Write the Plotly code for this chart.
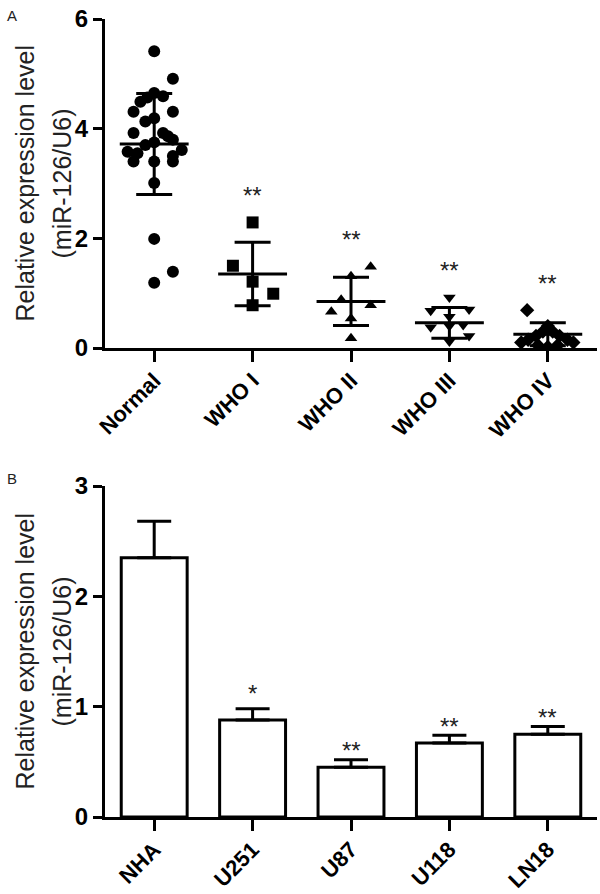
import plotly.graph_objects as go

# ---------------- Panel A data ----------------
groups_a = ["Normal", "WHO I", "WHO II", "WHO III", "WHO IV"]
symbols_a = ["circle", "square", "triangle-up", "triangle-down", "diamond"]

normal_vals = [5.41, 4.91, 4.65, 4.57, 4.49, 4.59, 4.31, 4.31, 4.13, 4.19,
               3.92, 3.92, 3.86, 3.80, 3.75, 3.70, 3.58, 3.61, 3.55, 3.50,
               3.40, 3.40, 3.40, 3.01, 1.99, 1.39, 1.19]
normal_jit = [0.0, 0.19, 0.0, -0.07, -0.14, 0.09, -0.21, 0.19, -0.09, 0.0,
              -0.21, 0.09, 0.14, 0.19, 0.0, -0.09, -0.27, 0.28, -0.17, 0.19,
              -0.21, 0.19, 0.0, 0.0, 0.0, 0.19, 0.0]

who1_vals = [2.29, 1.50, 1.21, 0.99, 0.78]
who1_jit = [0.0, -0.2, 0.0, 0.21, 0.0]

who2_vals = [1.48, 1.31, 0.88, 0.66, 0.78, 0.54, 0.18]
who2_jit = [0.2, 0.0, -0.1, -0.2, 0.2, 0.0, 0.0]

who3_vals = [0.92, 0.70, 0.68, 0.42, 0.38, 0.22, 0.40, 0.57, 0.12]
who3_jit = [0.0, 0.2, -0.19, 0.14, -0.19, 0.2, 0.0, 0.0, 0.0]

who4_vals = [0.69, 0.40, 0.30, 0.30, 0.22, 0.22, 0.15, 0.15, 0.10, 0.10, 0.05, 0.05, 0.02]
who4_jit = [-0.21, 0.0, -0.05, 0.05, -0.12, 0.12, -0.2, 0.2, -0.27, 0.26, -0.1, 0.1, 0.0]

means_a = [3.72, 1.35, 0.85, 0.46, 0.25]
sds_a = [0.92, 0.58, 0.44, 0.28, 0.21]
sig_a = ["", "**", "**", "**", "**"]

# ---------------- Panel B data ----------------
cells_b = ["NHA", "U251", "U87", "U118", "LN18"]
means_b = [2.35, 0.88, 0.45, 0.67, 0.75]
sds_b = [0.33, 0.10, 0.07, 0.07, 0.07]
sig_b = ["", "*", "**", "**", "**"]

H = 894
W = 600
ML, MR = 105, 3
FONT = "Liberation Sans, Arial, sans-serif"

def ydom(top_px, bot_px):
    return [(H - bot_px) / H, (H - top_px) / H]

fig = go.Figure()

all_vals = [normal_vals, who1_vals, who2_vals, who3_vals, who4_vals]
all_jit = [normal_jit, who1_jit, who2_jit, who3_jit, who4_jit]
marker_sizes = [12, 12, 11, 11, 11]

for i, (vals, jit) in enumerate(zip(all_vals, all_jit)):
    fig.add_trace(go.Scatter(
        x=[i + j for j in jit], y=vals, mode="markers",
        marker=dict(symbol=symbols_a[i], size=marker_sizes[i], color="black",
                    line=dict(width=0)),
        xaxis="x", yaxis="y", showlegend=False, hoverinfo="skip"))

# mean lines
mx, my = [], []
for i, m in enumerate(means_a):
    mx += [i - 0.35, i + 0.35, None]
    my += [m, m, None]
fig.add_trace(go.Scatter(x=mx, y=my, mode="lines",
                         line=dict(color="black", width=3),
                         xaxis="x", yaxis="y", showlegend=False, hoverinfo="skip"))
# SD error bars
fig.add_trace(go.Scatter(
    x=list(range(len(means_a))), y=means_a, mode="markers",
    marker=dict(size=1, color="rgba(0,0,0,0)"),
    error_y=dict(type="data", array=sds_a, visible=True, color="black",
                 thickness=3, width=18),
    xaxis="x", yaxis="y", showlegend=False, hoverinfo="skip"))

# Panel B bars
fig.add_trace(go.Bar(
    x=list(range(len(cells_b))), y=means_b, width=0.67,
    marker=dict(color="white", line=dict(color="black", width=3)),
    error_y=dict(type="data", array=sds_b, arrayminus=[0] * len(sds_b),
                 symmetric=False, visible=True, color="black", thickness=3, width=17),
    xaxis="x2", yaxis="y2", showlegend=False, hoverinfo="skip"))

annotations = []
for i, s in enumerate(sig_a):
    if s:
        annotations.append(dict(x=i, y=max(all_vals[i]), xref="x", yref="y",
                                text=s, showarrow=False, yshift=27,
                                font=dict(family=FONT, size=24, color="#222")))
for i, s in enumerate(sig_b):
    if s:
        annotations.append(dict(x=i, y=means_b[i] + sds_b[i], xref="x2", yref="y2",
                                text=s, showarrow=False,
                                yshift=9 if len(s) > 1 else 15,
                                font=dict(family=FONT, size=24, color="#222")))

# y-axis titles (two lines)
for yref in ["y domain", "y2 domain"]:
    annotations.append(dict(x=0, y=0.5, xref="paper", yref=yref,
                            text="Relative expression level", textangle=-90,
                            showarrow=False, xanchor="center", yanchor="middle",
                            xshift=-81,
                            font=dict(family=FONT, size=25, color="#222")))
    annotations.append(dict(x=0, y=0.5, xref="paper", yref=yref,
                            text="(miR-126/U6)", textangle=-90,
                            showarrow=False, xanchor="center", yanchor="middle",
                            xshift=-44,
                            font=dict(family=FONT, size=25, color="#222")))

# panel letters
pw = W - ML - MR
for letter, ypx in [("A", 15), ("B", 478)]:
    annotations.append(dict(x=(12 - ML) / pw, y=(H - ypx) / H, xref="paper", yref="paper",
                            text=letter, showarrow=False, xanchor="center",
                            yanchor="middle",
                            font=dict(family=FONT, size=15, color="#222")))

axis_common = dict(showline=True, linewidth=3, linecolor="black", showgrid=False,
                   zeroline=False, ticks="outside", tickwidth=3, tickcolor="black",
                   mirror=False, automargin=False)

fig.update_layout(
    width=W, height=H,
    margin=dict(l=ML, r=MR, t=0, b=0, autoexpand=False),
    paper_bgcolor="white", plot_bgcolor="white",
    font=dict(family=FONT, color="black"),
    xaxis=dict(axis_common, range=[-0.5, 4.5], tickvals=list(range(5)),
               ticktext=["<b>%s</b>" % g for g in groups_a], tickangle=-45,
               ticklen=11, tickfont=dict(size=22, color="black"),
               ticklabelstandoff=-3,
               anchor="y", domain=[0, 1]),
    yaxis=dict(axis_common, range=[0, 6], tickvals=[0, 2, 4, 6],
               ticktext=["<b>%d</b>" % v for v in [0, 2, 4, 6]],
               ticklen=9, tickfont=dict(size=24, color="black"),
               domain=ydom(19, 348), anchor="x"),
    xaxis2=dict(axis_common, range=[-0.5, 4.5], tickvals=list(range(5)),
                ticktext=["<b>%s</b>" % c for c in cells_b], tickangle=-45,
                ticklen=11, tickfont=dict(size=22, color="black"),
                ticklabelstandoff=-3,
                anchor="y2", domain=[0, 1]),
    yaxis2=dict(axis_common, range=[0, 3], tickvals=[0, 1, 2, 3],
                ticktext=["<b>%d</b>" % v for v in [0, 1, 2, 3]],
                ticklen=9, tickfont=dict(size=24, color="black"),
                domain=ydom(486, 817), anchor="x2"),
    annotations=annotations,
)

fig.write_html("out.html", config={"displayModeBar": False},
               post_script="document.body.style.margin='0';document.body.style.overflow='hidden';")
